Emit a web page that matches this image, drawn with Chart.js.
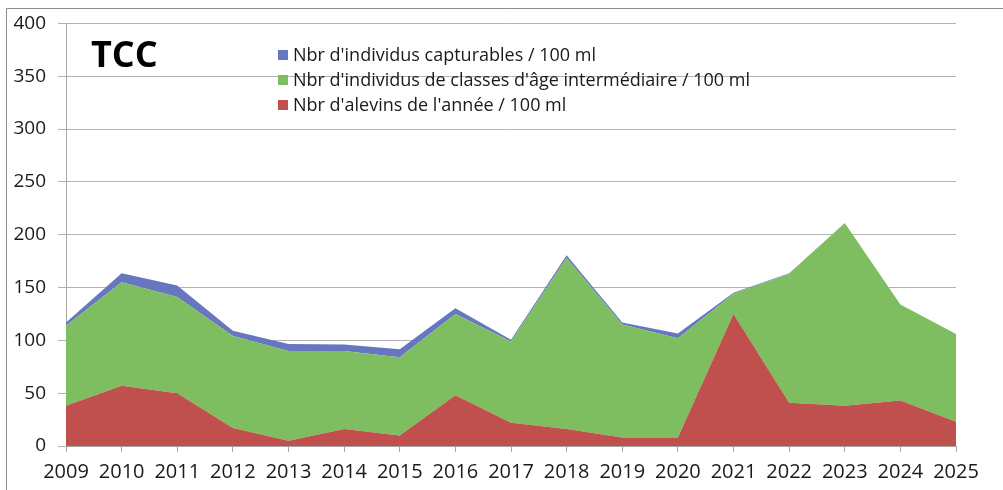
<!DOCTYPE html>
<html>
<head>
<meta charset="utf-8">
<script src="https://cdn.jsdelivr.net/npm/chart.js@4/dist/chart.umd.min.js"></script>
<style>
  html, body { margin: 0; padding: 0; background: #ffffff; }
  #wrap { position: relative; width: 1003px; height: 490px; }
  canvas { display: block; }
</style>
</head>
<body>
<div id="wrap"><canvas id="c" width="1003" height="490"></canvas></div>
<script>
// Years sampled
const years = ['2009','2010','2011','2012','2013','2014','2015','2016','2017','2018','2019','2020','2021','2022','2023','2024','2025'];

// Young of the year per 100 ml (bottom layer)
const alevins = [38, 57, 50, 17, 5, 16, 10, 48, 22, 16, 8, 8, 125, 41, 38, 43, 23];
// Intermediate age classes per 100 ml (middle layer)
const intermediaires = [76, 98, 91, 87, 85, 74, 74, 77, 77, 162, 107, 94, 19, 122, 173, 91, 83];
// Catchable individuals per 100 ml (top layer)
const capturables = [3, 8.5, 11, 5, 6.5, 6, 7.5, 5.5, 1.5, 2.5, 2, 4.5, 1, 0.5, 0, 0, 0];

const seriesLabels = [
  "Nbr d'alevins de l'année / 100 ml",
  "Nbr d'individus de classes d'âge intermédiaire / 100 ml",
  "Nbr d'individus capturables / 100 ml"
];
const yTicks = [0, 50, 100, 150, 200, 250, 300, 350, 400];
const chartTitle = 'TCC';

const colors = ['#C0504D', '#7EBD60', '#6677C0'];
const FONT = "'Open Sans', 'DejaVu Sans', sans-serif";

// Outer frame, title and the legend block inside the plot
const decorations = {
  id: 'decorations',
  beforeDraw(chart) {
    const ctx = chart.ctx;
    ctx.save();
    ctx.fillStyle = '#ffffff';
    ctx.fillRect(0, 0, chart.width, chart.height);
    ctx.strokeStyle = '#8C8C8C';
    ctx.lineWidth = 1;
    ctx.beginPath();
    ctx.moveTo(6.5, chart.height);
    ctx.lineTo(6.5, 8.5);
    ctx.lineTo(chart.width, 8.5);
    ctx.stroke();
    ctx.restore();
  },
  afterDraw(chart) {
    const ctx = chart.ctx;
    ctx.save();
    ctx.fillStyle = '#000000';
    ctx.font = 'bold 36px ' + FONT;
    ctx.textBaseline = 'alphabetic';
    ctx.textAlign = 'left';
    ctx.fillText(chartTitle, 91, 67);

    ctx.font = '18px ' + FONT;
    ctx.textBaseline = 'middle';
    const rows = [2, 1, 0];
    rows.forEach((di, i) => {
      const cy = 55 + i * 25;
      ctx.fillStyle = colors[di];
      ctx.fillRect(278, cy - 5, 10, 10);
      ctx.fillStyle = '#1a1a1a';
      ctx.fillText(seriesLabels[di], 293, cy + 1);
    });
    ctx.restore();
  }
};

const datasets = [alevins, intermediaires, capturables].map((vals, i) => ({
  label: seriesLabels[i],
  data: vals,
  backgroundColor: colors[i],
  borderColor: colors[i],
  borderWidth: 0,
  pointRadius: 0,
  pointHoverRadius: 0,
  tension: 0,
  fill: i === 0 ? 'origin' : '-1'
}));

new Chart(document.getElementById('c'), {
  type: 'line',
  data: { labels: years, datasets },
  plugins: [decorations],
  options: {
    responsive: false,
    animation: false,
    events: [],
    layout: { padding: { top: 23, right: 47, left: 0, bottom: 0 } },
    plugins: {
      legend: { display: false },
      tooltip: { enabled: false },
      title: { display: false }
    },
    scales: {
      x: {
        offset: false,
        grid: {
          drawOnChartArea: false,
          drawTicks: true,
          tickLength: 6,
          color: '#A6A6A6'
        },
        border: { color: '#A6A6A6', width: 1 },
        ticks: {
          font: { family: FONT, size: 20 },
          color: '#1a1a1a',
          padding: 8,
          maxRotation: 0,
          autoSkip: false
        },
        afterFit(scale) { scale.height = 44; }
      },
      y: {
        stacked: true,
        min: 0,
        max: 400,
        afterBuildTicks(scale) { scale.ticks = yTicks.map(v => ({ value: v })); },
        grid: {
          color: '#B3B3B3',
          lineWidth: 1,
          tickLength: 8
        },
        border: { color: '#A6A6A6', width: 1 },
        ticks: {
          font: { family: FONT, size: 19 },
          color: '#1a1a1a',
          padding: 12
        },
        afterFit(scale) { scale.width = 66; }
      }
    }
  }
});
</script>
</body>
</html>
